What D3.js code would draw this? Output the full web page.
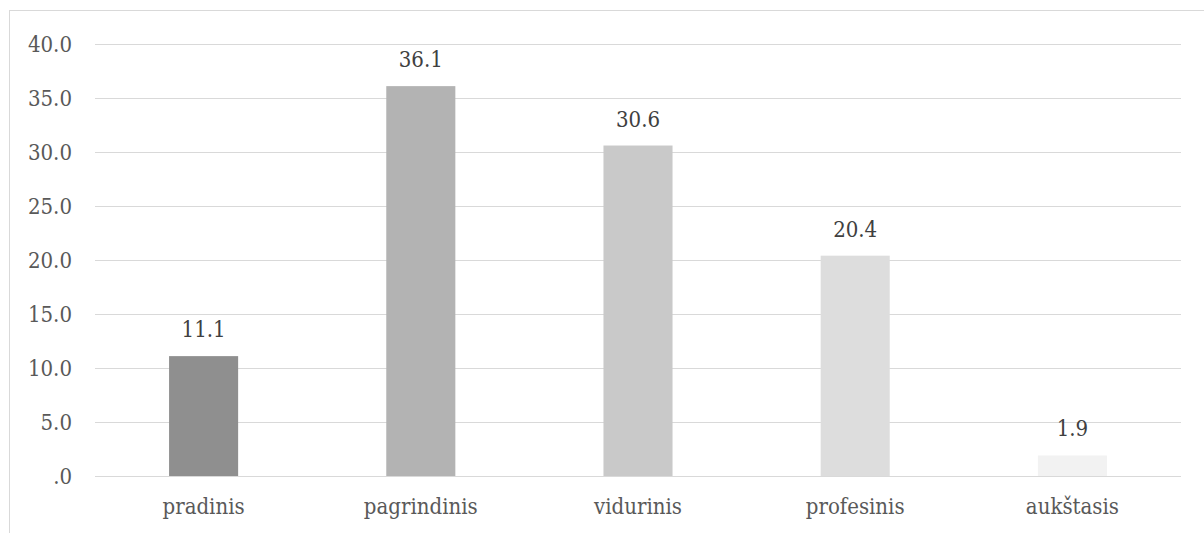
<!DOCTYPE html>
<html><head><meta charset="utf-8">
<script src="https://cdn.jsdelivr.net/npm/d3@7"></script>
<style>body{margin:0;background:#fff;overflow:hidden}svg{display:block}</style>
</head><body>
<script>
const categories = ["pradinis", "pagrindinis", "vidurinis", "profesinis", "aukštasis"];
const values = [11.1, 36.1, 30.6, 20.4, 1.9];
const colors = ["#8f8f8f", "#b3b3b3", "#c9c9c9", "#dddddd", "#f2f2f2"];
const yTicks = [0, 5, 10, 15, 20, 25, 30, 35, 40];

const W = 1204, H = 533;
const svg = d3.select("body").append("svg").attr("width", W).attr("height", H);

// choose a condensed serif if installed, otherwise regular DejaVu Serif
function measure(fam) {
  const t = svg.append("text").attr("font-family", fam).attr("font-size", 40).text("pagrindinis 36.1");
  const w = t.node().getComputedTextLength(); t.remove(); return w;
}
const condOK = Math.abs(measure("'DejaVu Serif Condensed', monospace") - measure("monospace")) > 1;
const font = condOK ? "'DejaVu Serif Condensed', serif" : "'DejaVu Serif', serif";
const fs = condOK ? 22 : 20.5;

svg.append("rect").attr("x", 9.5).attr("y", 10.5).attr("width", 1300).attr("height", 700)
  .attr("fill", "none").attr("stroke", "#d9d9d9").attr("stroke-width", 1);

const x = d3.scaleBand().domain(categories).range([95, 1181]).paddingInner(0.682).paddingOuter(0.341);
const y = d3.scaleLinear().domain([0, 40]).range([476, 44]);

const fmt = v => v === 0 ? ".0" : d3.format(".1f")(v);

svg.append("g").selectAll("line").data(yTicks).join("line")
  .attr("x1", 95).attr("x2", 1181)
  .attr("y1", d => Math.round(y(d)) + 0.5).attr("y2", d => Math.round(y(d)) + 0.5)
  .attr("stroke", "#d9d9d9").attr("stroke-width", 1);

const yAxis = d3.axisLeft(y).tickValues(yTicks).tickFormat(fmt).tickSize(0).tickPadding(0);
const gy = svg.append("g").attr("transform", "translate(72,0)").call(yAxis);
gy.select(".domain").remove();
gy.selectAll("text").attr("font-family", font).attr("font-size", fs).attr("fill", "#595959");

svg.append("g").selectAll("rect").data(values).join("rect")
  .attr("x", (d, i) => x(categories[i])).attr("width", x.bandwidth())
  .attr("y", d => y(d)).attr("height", d => y(0) - y(d))
  .attr("fill", (d, i) => colors[i]);

svg.append("g").selectAll("text").data(values).join("text")
  .attr("x", (d, i) => x(categories[i]) + x.bandwidth() / 2)
  .attr("y", d => y(d) - 19)
  .attr("text-anchor", "middle")
  .attr("font-family", font).attr("font-size", fs).attr("fill", "#404040")
  .text(d => d3.format(".1f")(d));

const xAxis = d3.axisBottom(x).tickSize(0).tickPadding(0);
const gx = svg.append("g").attr("transform", "translate(0,498)").call(xAxis);
gx.select(".domain").remove();
gx.selectAll("text").attr("font-family", font).attr("font-size", fs).attr("fill", "#595959");
</script>
</body></html>
